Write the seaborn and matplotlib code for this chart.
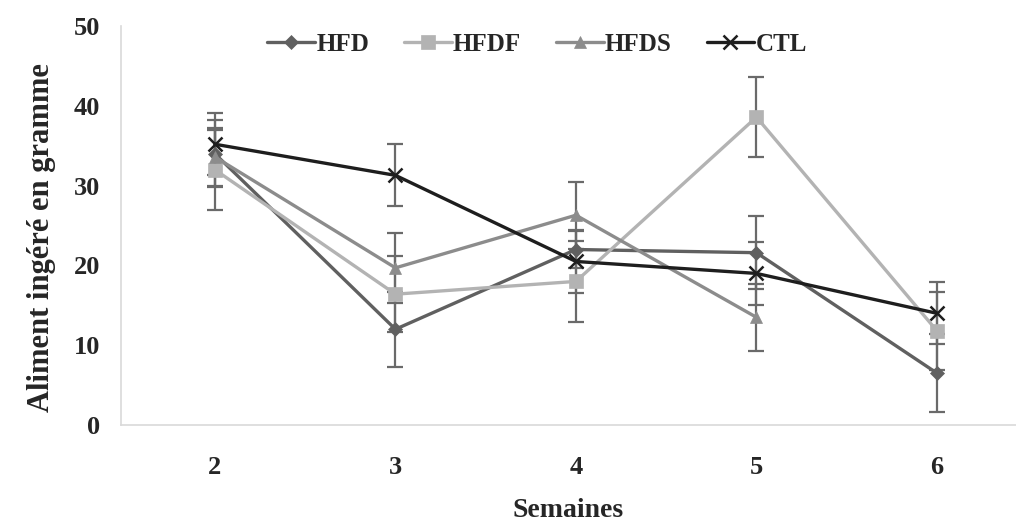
import numpy as np
import pandas as pd
import matplotlib
matplotlib.use("Agg")
import matplotlib.pyplot as plt
import seaborn as sns

weeks = [2, 3, 4, 5, 6]
groups = ["HFD", "HFDF", "HFDS", "CTL"]
hfd = [34.0, 12.0, 22.0, 21.6, 6.5]
hfd_err = [4.2, 4.7, 2.3, 4.6, 4.9]
hfdf = [32.0, 16.4, 18.0, 38.6, 11.8]
hfdf_err = [5.0, 4.8, 5.1, 5.0, 4.9]
hfds = [33.6, 19.7, 26.3, 13.5, np.nan]
hfds_err = [3.6, 4.4, 4.2, 4.2, np.nan]
ctl = [35.2, 31.3, 20.5, 19.0, 14.0]
ctl_err = [3.9, 3.9, 4.0, 4.0, 3.9]

values = {"HFD": hfd, "HFDF": hfdf, "HFDS": hfds, "CTL": ctl}
errors = {"HFD": hfd_err, "HFDF": hfdf_err, "HFDS": hfds_err, "CTL": ctl_err}

rows = []
for g in groups:
    for w, v, e in zip(weeks, values[g], errors[g]):
        if not np.isnan(v):
            rows.append({"Semaine": w, "Valeur": v, "Err": e, "Groupe": g})
df = pd.DataFrame(rows)

sns.set_style("white")
plt.rcParams["font.family"] = ["Liberation Serif", "DejaVu Serif"]
plt.rcParams["font.weight"] = "bold"

palette = {"HFD": "#606060", "HFDF": "#b3b3b3", "HFDS": "#8c8c8c", "CTL": "#1e1e1e"}
markers = {"HFD": "D", "HFDF": "s", "HFDS": "^", "CTL": "x"}
msizes = {"HFD": 7, "HFDF": 10, "HFDS": 9, "CTL": 10}

fig = plt.figure(figsize=(10.16, 5.24), dpi=100)
ax = fig.add_axes([0.119, 0.189, 0.881, 0.761])

# error bars
for g in groups:
    sub = df[df["Groupe"] == g]
    ax.errorbar(sub["Semaine"], sub["Valeur"], yerr=sub["Err"], fmt="none",
                ecolor="#6a6a6a", elinewidth=1.6, capsize=5.5, capthick=1.6, zorder=2)

order_z = {"HFD": 3, "HFDF": 4, "HFDS": 5, "CTL": 6}
for g in groups:
    sub = df[df["Groupe"] == g]
    sns.lineplot(data=sub, x="Semaine", y="Valeur", ax=ax, color=palette[g],
                 marker=markers[g], markersize=msizes[g], linewidth=2.4,
                 markeredgewidth=1.8 if g == "CTL" else 0.5,
                 markeredgecolor=palette[g], label=g, zorder=order_z[g],
                 legend=True)

ax.set_xlim(1.479, 6.438)
ax.set_ylim(0, 50)
ax.set_xticks(weeks)
ax.set_yticks([0, 10, 20, 30, 40, 50])
ax.tick_params(axis="both", length=0, labelsize=19)
ax.tick_params(axis="x", pad=22)
ax.tick_params(axis="y", pad=15)
for lab in ax.get_xticklabels() + ax.get_yticklabels():
    lab.set_fontweight("bold")

for s in ["top", "right"]:
    ax.spines[s].set_visible(False)
for s in ["left", "bottom"]:
    ax.spines[s].set_color("#d9d9d9")
    ax.spines[s].set_linewidth(1.2)

ax.set_xlabel("Semaines", fontsize=20, fontweight="bold", labelpad=14)
ax.set_ylabel("Aliment ingéré en gramme", fontsize=22, fontweight="bold")
ax.yaxis.set_label_coords(-0.072, 0.47)

leg = ax.legend(loc="upper center", bbox_to_anchor=(0.465, 1.04), ncol=4, frameon=False,
                handlelength=1.9, handletextpad=0.05, columnspacing=1.4,
                prop={"weight": "bold", "size": 18})

fig.savefig("out.png", dpi=100)
